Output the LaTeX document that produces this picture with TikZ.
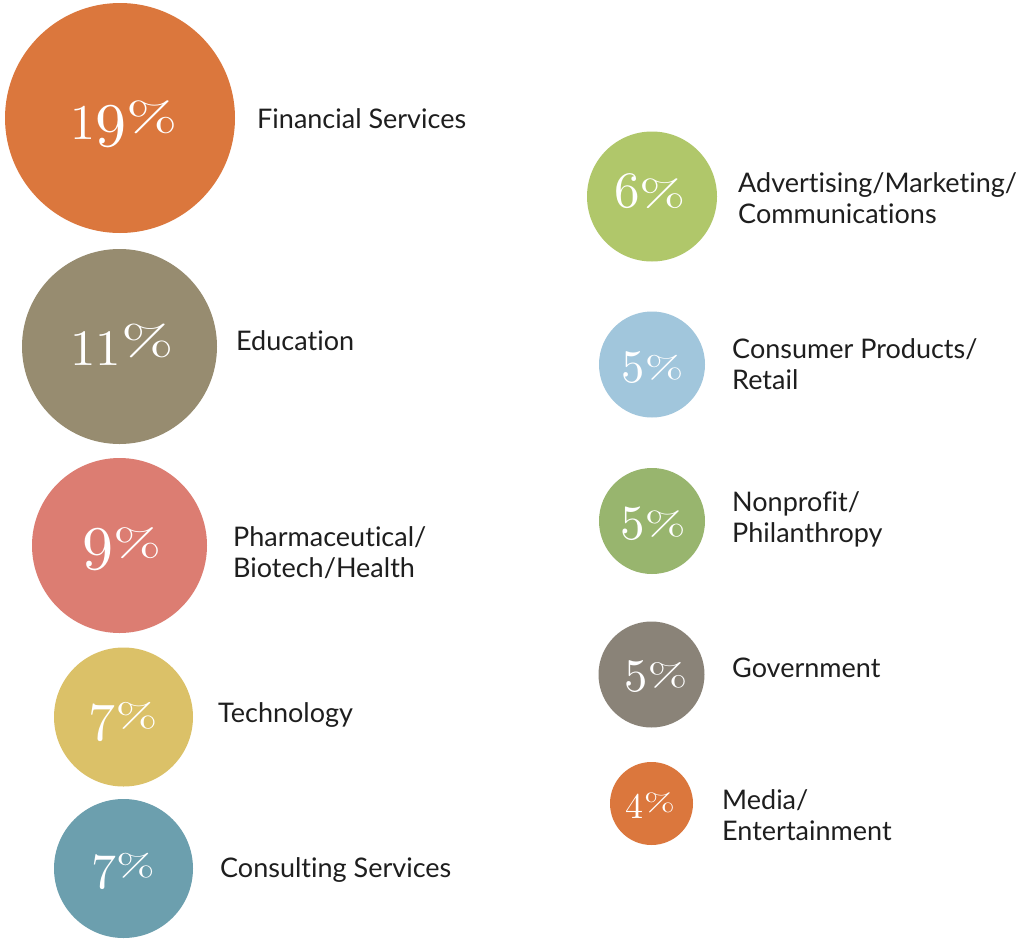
\documentclass[tikz,border=0pt]{standalone}
\usepackage{fontspec}
\setsansfont{Lato}[Ligatures=NoCommon]
\newfontfamily\numfont{lmroman10-regular.otf}
\usepackage{graphicx}
\definecolor{corange}{HTML}{DB773D}
\definecolor{colive}{HTML}{978C70}
\definecolor{csalmon}{HTML}{DC7D72}
\definecolor{cyellow}{HTML}{DBC168}
\definecolor{cteal}{HTML}{6C9FAE}
\definecolor{clime}{HTML}{B0C76A}
\definecolor{cblue}{HTML}{A1C6DC}
\definecolor{cgreen}{HTML}{98B56E}
\definecolor{cgray}{HTML}{8A8378}
\definecolor{labc}{HTML}{1E1E1E}
\newcommand\dgt[3]{{\fontsize{#1pt}{#1pt}\selectfont\lower#2pt\hbox{#3}}}
\newcommand\pcs[1]{{\fontsize{#1pt}{#1pt}\selectfont\scalebox{1.5}[1]{\%}}}
\tikzset{
  bub/.style={circle, fill=#1, draw=none, inner sep=0pt},
  pct/.style={anchor=base, inner sep=0pt, text=white, font=\numfont},
  lab/.style={anchor=base west, inner sep=0pt, text=labc, align=left,
    font=\sffamily\fontsize{27pt}{31pt}\selectfont}
}
\begin{document}
\begin{tikzpicture}[x=1pt,y=-1pt]
\useasboundingbox[fill=white] (0,0) rectangle (1026,940);
% left column
\node[bub=corange, minimum size=230pt] (c1) at (120,118) {};
\node[bub=colive, minimum size=195pt] (c2) at (119.5,346.5) {};
\node[bub=csalmon, minimum size=175pt] (c3) at (119.5,545.5) {};
\node[bub=cyellow, minimum size=139pt] (c4) at (123.5,717) {};
\node[bub=cteal, minimum size=139pt] (c5) at (123.5,868.5) {};
% right column
\node[bub=clime, minimum size=130pt] (c6) at (652,196.5) {};
\node[bub=cblue, minimum size=106pt] (c7) at (652,364.5) {};
\node[bub=cgreen, minimum size=106pt] (c8) at (652,521) {};
\node[bub=cgray, minimum size=106pt] (c9) at (651.5,674.5) {};
\node[bub=corange, minimum size=83pt] (c10) at (651.5,803.5) {};
% percentages
\node[pct] (p1) at (124,131) {\dgt{50}{8}{1}\dgt{62}{15}{9}\pcs{41}};
\node[pct] (p2) at (122,355) {\dgt{51}{10}{1}\dgt{51}{10}{1}\pcs{42}};
\node[pct] (p3) at (122,556) {\dgt{62}{13}{9}\pcs{38.5}};
\node[pct] (p4) at (123,727) {\dgt{54}{13}{7}\pcs{33.5}};
\node[pct] (p5) at (123,876) {\dgt{50}{12}{7}\pcs{31}};
\node[pct] (p6) at (650,206) {\dgt{51}{1}{6}\pcs{37}};
\node[pct] (p7) at (652.5,378) {\dgt{46.5}{4}{5}\pcs{31}};
\node[pct] (p8) at (653,535) {\dgt{49}{4}{5}\pcs{33}};
\node[pct] (p9) at (656,686) {\dgt{46.5}{5}{5}\pcs{32}};
\node[pct] (p10) at (650.5,811) {\dgt{36}{7}{4}\pcs{25}};
% labels (two-line labels are placed by their last baseline)
\node[lab] (l1) at (257,128) {Financial Services};
\node[lab] (l2) at (236,350) {Education};
\node[lab] (l3) at (233,577) {Pharmaceutical/\\Biotech/Health};
\node[lab] (l4) at (218,722) {Technology};
\node[lab] (l5) at (220,877) {Consulting Services};
\node[lab] (l6) at (738,223) {Advertising/Marketing/\\Communications};
\node[lab] (l7) at (732,389) {Consumer Products/\\Retail};
\node[lab] (l8) at (732,542) {Nonprofit/\\Philanthropy};
\node[lab] (l9) at (732,677) {Government};
\node[lab] (l10) at (722,840) {Media/\\Entertainment};
\end{tikzpicture}
\end{document}
